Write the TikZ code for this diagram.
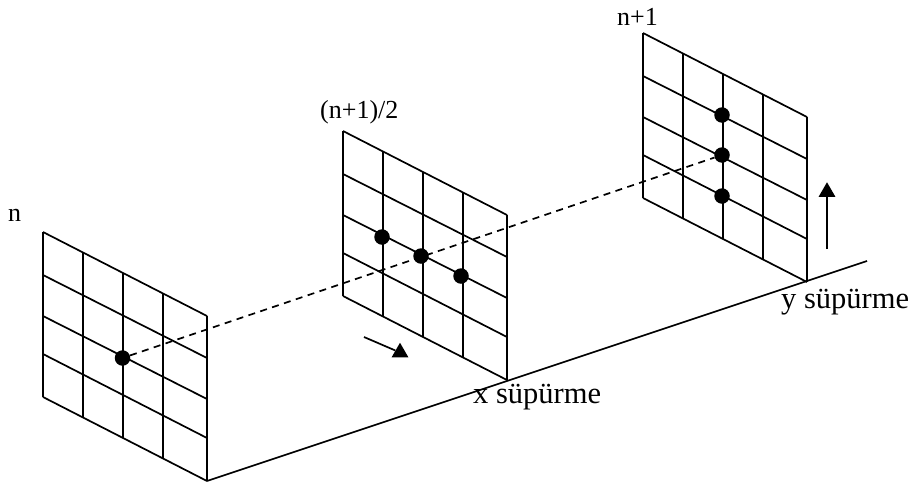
\documentclass[tikz,border=0pt]{standalone}
\usepackage{fontspec}
\setmainfont{Liberation Serif}
\usetikzlibrary{shapes.geometric}
\tikzset{
  gridline/.style={line width=1.7pt, black},
  scandot/.style={circle, fill=black, inner sep=0pt, minimum size=15.5pt},
  tipmark/.style={regular polygon, regular polygon sides=3, fill=black, inner sep=0pt, minimum size=19.5pt},
  framelbl/.style={anchor=base west, inner sep=0pt, font=\fontsize{26}{26}\selectfont},
  sweeplbl/.style={anchor=base west, inner sep=0pt, font=\fontsize{30.5}{30.5}\selectfont},
}
\begin{document}
\begin{tikzpicture}[x=1pt, y=-1pt]
\useasboundingbox (0,0) rectangle (917,485);
% Three frames along the base line
\foreach \dx/\dy in {0/0, 300/-101, 600/-199} {
  \begin{scope}[shift={(\dx,\dy)}]
  \foreach \ya/\yb in {232/316, 275/358, 316/399, 354/438, 397/481} \draw[gridline] (43,\ya)--(207,\yb);
  \foreach \xa/\ya/\yb in {43/232/397, 83/252/417, 123/273/438, 163/294/459, 207/316/481} \draw[gridline] (\xa,\ya)--(\xa,\yb);
  \end{scope}
}
% Sampled points
\node[scandot] (dotA) at (122.5,358) {};
\node[scandot] (dotBa) at (382,237) {};
\node[scandot] (dotBb) at (421,256) {};
\node[scandot] (dotBc) at (461,276) {};
\node[scandot] (dotCa) at (722,115) {};
\node[scandot] (dotCb) at (722,155) {};
\node[scandot] (dotCc) at (722,196) {};
\draw[gridline, dash pattern=on 7pt off 5.5pt] (dotA)--(dotCb);
% Base line
\coordinate (baseA) at (207,481);
\coordinate (baseB) at (867,261);
\draw[gridline] (baseA)--(baseB);
% Sweep arrows
\coordinate (sweepx) at (364,337);
\node[tipmark] (tipx) at (400,352.5) {};
\draw[gridline] (sweepx)--(tipx);
\coordinate (sweepy) at (827,249);
\node[tipmark] (tipy) at (827,192) {};
\draw[gridline] (sweepy)--(tipy);
% Labels
\node[framelbl] (lbln) at (8,221) {n};
\node[framelbl] (lblmid) at (320,118) {(n+1)/2};
\node[framelbl] (lblnext) at (617,25) {n+1};
\node[sweeplbl] (lblx) at (473,403) {x süpürme};
\node[sweeplbl] (lbly) at (781,308) {y süpürme};
\end{tikzpicture}
\end{document}
